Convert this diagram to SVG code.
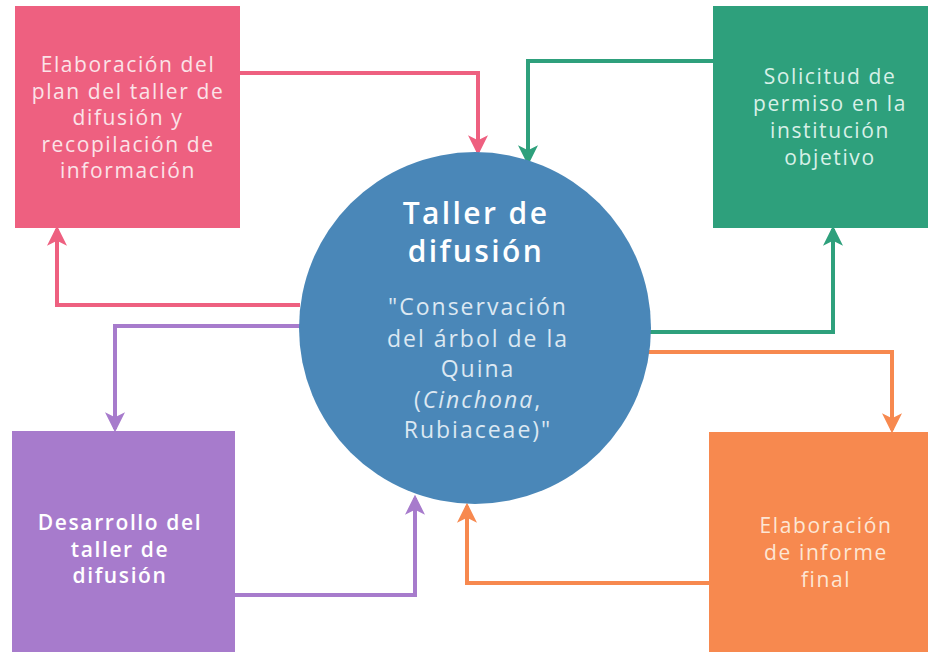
<svg xmlns="http://www.w3.org/2000/svg" width="928" height="652" viewBox="0 0 928 652">
<style>
  .lbl { font-family: "Open Sans", "Liberation Sans", sans-serif; font-size: 21px; text-anchor: middle; letter-spacing: 1.6px; }
  .conn { fill: none; stroke-width: 4; stroke-linejoin: miter; }
</style>
<defs>
  <marker id="ahPink" viewBox="0 0 12 12" refX="10" refY="6" markerWidth="5" markerHeight="5" orient="auto" markerUnits="strokeWidth"><path d="M0,0 L12,6 L0,12 L3,6 Z" fill="#EE6080"/></marker>
  <marker id="ahGreen" viewBox="0 0 12 12" refX="10" refY="6" markerWidth="5" markerHeight="5" orient="auto" markerUnits="strokeWidth"><path d="M0,0 L12,6 L0,12 L3,6 Z" fill="#2EA07C"/></marker>
  <marker id="ahPurple" viewBox="0 0 12 12" refX="10" refY="6" markerWidth="5" markerHeight="5" orient="auto" markerUnits="strokeWidth"><path d="M0,0 L12,6 L0,12 L3,6 Z" fill="#A77BCC"/></marker>
  <marker id="ahOrange" viewBox="0 0 12 12" refX="10" refY="6" markerWidth="5" markerHeight="5" orient="auto" markerUnits="strokeWidth"><path d="M0,0 L12,6 L0,12 L3,6 Z" fill="#F7894F"/></marker>
</defs>
<rect width="928" height="652" fill="#FFFFFF"/>

<g id="connectors">
  <path class="conn" stroke="#EE6080" d="M240,73 H478 V152" marker-end="url(#ahPink)"/>
  <path class="conn" stroke="#2EA07C" d="M713,61 H528 V162" marker-end="url(#ahGreen)"/>
  <path class="conn" stroke="#EE6080" d="M300,305 H57 V229" marker-end="url(#ahPink)"/>
  <path class="conn" stroke="#A77BCC" d="M300,326 H115 V429" marker-end="url(#ahPurple)"/>
  <path class="conn" stroke="#A77BCC" d="M235,595 H415 V498" marker-end="url(#ahPurple)"/>
  <path class="conn" stroke="#2EA07C" d="M650,332 H833 V229" marker-end="url(#ahGreen)"/>
  <path class="conn" stroke="#F7894F" d="M648,352 H892 V430" marker-end="url(#ahOrange)"/>
  <path class="conn" stroke="#F7894F" d="M709,583 H467 V506" marker-end="url(#ahOrange)"/>
</g>

<g id="node-plan">
  <rect x="15" y="6" width="225" height="222" fill="#EE6080"/>
  <text class="lbl" fill="#FBE3E8"><tspan x="128" y="72">Elaboración del</tspan><tspan x="128" y="99">plan del taller de</tspan><tspan x="128" y="125">difusión y</tspan><tspan x="128" y="152">recopilación de</tspan><tspan x="128" y="178">información</tspan></text>
</g>

<g id="node-solicitud">
  <rect x="713" y="6" width="215" height="222" fill="#2EA07C"/>
  <text class="lbl" fill="#D8F0E8"><tspan x="830" y="84">Solicitud de</tspan><tspan x="830" y="111">permiso en la</tspan><tspan x="830" y="138">institución</tspan><tspan x="830" y="165">objetivo</tspan></text>
</g>

<g id="node-desarrollo">
  <rect x="12" y="431" width="223" height="221" fill="#A77BCC"/>
  <text class="lbl" fill="#FFFFFF" font-weight="600"><tspan x="120" y="530">Desarrollo del</tspan><tspan x="120" y="557">taller de</tspan><tspan x="120" y="583">difusión</tspan></text>
</g>

<g id="node-informe">
  <rect x="709" y="432" width="219" height="220" fill="#F7894F"/>
  <text class="lbl" fill="#FDE6D4"><tspan x="826" y="533">Elaboración</tspan><tspan x="826" y="560">de informe</tspan><tspan x="826" y="587">final</tspan></text>
</g>

<g id="node-taller">
  <circle cx="475" cy="328" r="176" fill="#4A87B8"/>
  <text font-family="'Open Sans', 'Liberation Sans', sans-serif" font-size="30" font-weight="600" fill="#FFFFFF" text-anchor="middle" letter-spacing="2.4"><tspan x="476" y="224">Taller de</tspan><tspan x="476" y="262">difusión</tspan></text>
  <text font-family="'Open Sans', 'Liberation Sans', sans-serif" font-size="23" fill="#DCE8F2" text-anchor="middle" letter-spacing="2"><tspan x="478" y="315">"Conservación</tspan><tspan x="478" y="347">del árbol de la</tspan><tspan x="478" y="377">Quina</tspan><tspan x="478" y="408">(<tspan font-style="italic">Cinchona</tspan>,</tspan><tspan x="478" y="438">Rubiaceae)"</tspan></text>
</g>
</svg>
